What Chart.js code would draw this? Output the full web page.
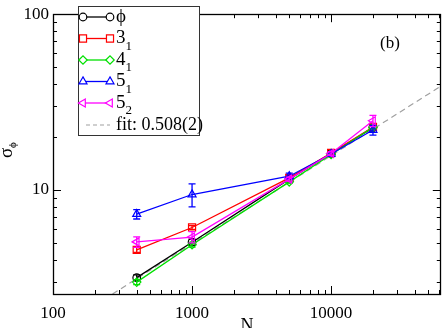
<!DOCTYPE html>
<html>
<head>
<meta charset="utf-8">
<script src="https://cdn.jsdelivr.net/npm/chart.js@4.4.0/dist/chart.umd.min.js"></script>
<style>
  html, body { margin: 0; padding: 0; background: #fff; }
</style>
</head>
<body>
<canvas id="chart" width="447" height="328"></canvas>
<script>
// values
const sizesN = [400, 1000, 5000, 10000, 20000];

const phiVals = [3.16, 5.03, 11.5, 16.1, 22.6];
const phiErr = [0.12, 0.2, 0.2, 0.3, 0.5];
const k31Vals = [4.55, 6.1, 11.7, 16.2, 22.8];
const k31Err = [0.15, 0.15, 0.25, 0.3, 0.6];
const k41Vals = [2.98, 4.86, 11.1, 15.9, 22.7];
const k41Err = [0.1, 0.15, 0.2, 0.3, 0.5];
const k51Vals = [7.27, 9.4, 11.95, 16.0, 21.9];
const k51Err = [0.45, 1.4, 0.5, 0.4, 1.4];
const k52Vals = [5.05, 5.38, 11.5, 16.1, 24.7];
const k52Err = [0.35, 0.4, 0.3, 0.4, 1.8];

// fit line end points (slope 0.508)
const fitN = [268, 61500];
const fitVals = [2.55, 38.9];

const xTickVals = [100, 1000, 10000];
const yTickVals = [10, 100];

const SERIF = '"Liberation Serif", "DejaVu Serif", serif';
const PHI = "\u03d5";

const pts = (xs, ys) => xs.map((x, i) => ({ x: x, y: ys[i] }));

const series = [
  { main: PHI, sub: "", vals: phiVals, err: phiErr, color: "#000000", style: "circle", r: 3.8, rot: 0 },
  { main: "3", sub: "1", vals: k31Vals, err: k31Err, color: "#ff0000", style: "rect", r: 5, rot: 0 },
  { main: "4", sub: "1", vals: k41Vals, err: k41Err, color: "#00e000", style: "rectRot", r: 4.2, rot: 0 },
  { main: "5", sub: "1", vals: k51Vals, err: k51Err, color: "#0000ff", style: "triangle", r: 4.6, rot: 0 },
  { main: "5", sub: "2", vals: k52Vals, err: k52Err, color: "#ff00ff", style: "triangle", r: 4.6, rot: -90 }
];

const datasets = series.map((s, i) => ({
  label: s.main + s.sub,
  data: pts(sizesN, s.vals),
  errors: s.err,
  borderColor: s.color,
  backgroundColor: "rgba(255,255,255,0)",
  borderWidth: 1.3,
  pointStyle: s.style,
  pointRadius: s.r,
  pointRotation: s.rot,
  pointBorderWidth: 1.2,
  pointBorderColor: s.color,
  pointBackgroundColor: "rgba(255,255,255,0)",
  tension: 0,
  order: 5 - i
}));

datasets.push({
  label: "fit: 0.508(2)",
  data: pts(fitN, fitVals),
  borderColor: "#a0a0a0",
  borderWidth: 1.2,
  borderDash: [6, 4],
  pointRadius: 0,
  order: 10
});

// error bars, drawn with each dataset
const errorBars = {
  id: "errorBars",
  afterDatasetDraw(chart, args) {
    const ds = chart.data.datasets[args.index];
    if (!ds.errors) return;
    const ctx = chart.ctx, xs = chart.scales.x, ys = chart.scales.y;
    ctx.save();
    ctx.strokeStyle = ds.borderColor;
    ctx.lineWidth = 1.3;
    ds.data.forEach((p, i) => {
      const e = ds.errors[i];
      const px = xs.getPixelForValue(p.x);
      const y1 = ys.getPixelForValue(p.y + e);
      const y2 = ys.getPixelForValue(p.y - e);
      ctx.beginPath();
      ctx.moveTo(px, y1); ctx.lineTo(px, y2);
      ctx.moveTo(px - 3.5, y1); ctx.lineTo(px + 3.5, y1);
      ctx.moveTo(px - 3.5, y2); ctx.lineTo(px + 3.5, y2);
      ctx.stroke();
    });
    ctx.restore();
  }
};

function minorTicks(lo, hi) {
  const out = [];
  for (let d = lo; d < hi; d *= 10) {
    for (let k = 2; k <= 9; k++) out.push(d * k);
  }
  return out;
}

// frame with inward ticks on all four sides, axis titles, panel tag
const frame = {
  id: "frame",
  afterDraw(chart) {
    const ctx = chart.ctx, a = chart.chartArea;
    const xs = chart.scales.x, ys = chart.scales.y;
    ctx.save();
    ctx.strokeStyle = "#000";
    ctx.lineWidth = 1;
    ctx.beginPath();
    const tick = (vals, len, isX) => {
      vals.forEach(v => {
        if (isX) {
          if (v < xs.min || v > xs.max) return;
          const px = Math.round(xs.getPixelForValue(v)) + 0.5;
          ctx.moveTo(px, a.bottom); ctx.lineTo(px, a.bottom - len);
          ctx.moveTo(px, a.top); ctx.lineTo(px, a.top + len);
        } else {
          if (v < ys.min || v > ys.max) return;
          const py = Math.round(ys.getPixelForValue(v)) + 0.5;
          ctx.moveTo(a.left, py); ctx.lineTo(a.left + len, py);
          ctx.moveTo(a.right, py); ctx.lineTo(a.right - len, py);
        }
      });
    };
    tick(xTickVals, 8, true);
    tick(minorTicks(100, 100000), 4, true);
    tick(yTickVals, 8, false);
    tick(minorTicks(1, 100), 4, false);
    ctx.stroke();
    ctx.lineWidth = 1.3;
    ctx.strokeRect(Math.round(a.left) + 0.5, Math.round(a.top) + 0.5,
      Math.round(a.right - a.left) - 1, Math.round(a.bottom - a.top));

    ctx.fillStyle = "#000";
    ctx.textBaseline = "middle";
    ctx.textAlign = "center";
    ctx.font = "18px " + SERIF;
    ctx.fillText("N", (a.left + a.right) / 2, 326);
    ctx.font = "17px " + SERIF;
    ctx.fillText("(b)", 390, 44);

    ctx.save();
    ctx.translate(7, 153);
    ctx.rotate(-Math.PI / 2);
    ctx.textAlign = "left";
    ctx.font = "19px " + SERIF;
    ctx.fillText("\u03c3", -5, 0);
    ctx.font = "11px " + SERIF;
    ctx.fillText(PHI, 5, 6);
    ctx.restore();
    ctx.restore();
  }
};

// legend box in the top left corner
const legendBox = {
  id: "legendBox",
  afterDraw(chart) {
    const ctx = chart.ctx;
    const box = { x: 78.5, y: 6.5, w: 121, h: 129 };
    ctx.save();
    ctx.fillStyle = "#fff";
    ctx.fillRect(box.x, box.y, box.w, box.h);
    ctx.strokeStyle = "#333";
    ctx.lineWidth = 1;
    ctx.strokeRect(box.x, box.y, box.w, box.h);
    const rowY = [17, 38.5, 60, 81.5, 103, 125];
    series.forEach((s, i) => {
      const y = rowY[i];
      ctx.strokeStyle = s.color;
      ctx.lineWidth = 1.3;
      ctx.setLineDash([]);
      ctx.beginPath();
      ctx.moveTo(83, y); ctx.lineTo(110, y);
      ctx.stroke();
      ctx.fillStyle = "#fff";
      ctx.lineWidth = 1.2;
      [83, 110].forEach(px => {
        Chart.helpers.drawPoint(ctx, {
          pointStyle: s.style, radius: s.r, rotation: s.rot, borderWidth: 1.2
        }, px, y);
      });
      ctx.fillStyle = "#000";
      ctx.textBaseline = "middle";
      ctx.textAlign = "left";
      ctx.font = "19px " + SERIF;
      ctx.fillText(s.main, 116, y);
      if (s.sub) {
        const w = ctx.measureText(s.main).width;
        ctx.font = "13px " + SERIF;
        ctx.fillText(s.sub, 116 + w, y + 8);
      }
    });
    const fy = rowY[5];
    ctx.strokeStyle = "#a0a0a0";
    ctx.lineWidth = 1.2;
    ctx.setLineDash([4, 3]);
    ctx.beginPath();
    ctx.moveTo(86, fy); ctx.lineTo(110, fy);
    ctx.stroke();
    ctx.setLineDash([]);
    ctx.fillStyle = "#000";
    ctx.font = "18px " + SERIF;
    ctx.fillText("fit: 0.508(2)", 116, fy);
    ctx.restore();
  }
};

new Chart(document.getElementById("chart"), {
  type: "line",
  data: { datasets: datasets },
  plugins: [errorBars, frame, legendBox],
  options: {
    responsive: false,
    animation: false,
    devicePixelRatio: 1,
    layout: { padding: { top: 6, right: 1, left: 0, bottom: 0 } },
    plugins: { legend: { display: false }, tooltip: { enabled: false } },
    scales: {
      x: {
        type: "logarithmic",
        min: 100,
        max: 61500,
        grid: { display: false, drawTicks: false },
        border: { display: false },
        afterBuildTicks: (s) => { s.ticks = xTickVals.map(v => ({ value: v })); },
        afterFit: (s) => { s.height = 34; },
        ticks: {
          autoSkip: false,
          maxRotation: 0,
          padding: 9,
          color: "#000",
          font: { family: SERIF, size: 17 },
          callback: (v) => String(v)
        }
      },
      y: {
        type: "logarithmic",
        min: 2.55,
        max: 100,
        grid: { display: false, drawTicks: false },
        border: { display: false },
        afterBuildTicks: (s) => { s.ticks = yTickVals.map(v => ({ value: v })); },
        afterFit: (s) => { s.width = 53; },
        ticks: {
          autoSkip: false,
          padding: 4,
          color: "#000",
          font: { family: SERIF, size: 17 },
          callback: (v) => String(v)
        }
      }
    }
  }
});
</script>
</body>
</html>
